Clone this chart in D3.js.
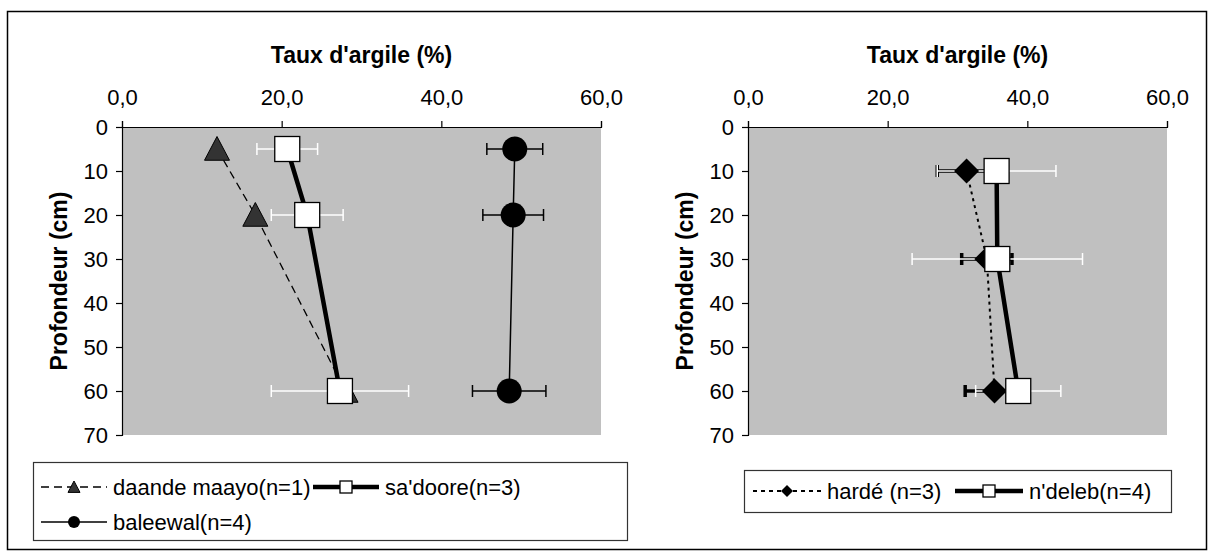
<!DOCTYPE html>
<html>
<head>
<meta charset="utf-8">
<script src="https://cdn.jsdelivr.net/npm/d3@7"></script>
<style>
  body { margin: 0; background: #fff; }
  svg text { font-family: "Liberation Sans", Arial, sans-serif; fill: #000; }
</style>
</head>
<body>
<svg width="1210" height="553"></svg>
<script>
// left chart : depth (cm) and clay rate (%)
const depthLeft = [5, 20, 60]
const daandeMaayo = [11.9, 16.7, 28.0]
const sadoore = [20.7, 23.2, 27.3]
const sadooreErr = [3.8, 4.5, 8.6]
const baleewal = [49.2, 49.0, 48.5]
const baleewalErr = [3.5, 3.8, 4.6]

// right chart
const depthRight = [10, 30, 60]
const harde = [31.3, 34.2, 35.3]
const hardeErr = [4.2, 3.6, 4.2]
const ndeleb = [35.6, 35.7, 38.7]
const ndelebErr = [8.5, 12.2, 6.1]

const xTicks = [0, 20, 40, 60]
const yTicks = [0, 10, 20, 30, 40, 50, 60, 70]
const xTitle = "Taux d'argile (%)"
const yTitle = "Profondeur (cm)"

const svg = d3.select('svg')

// outer frame
svg.append('rect')
  .attr('x', 7.5).attr('y', 11.5)
  .attr('width', 1199).attr('height', 538)
  .attr('fill', 'none').attr('stroke', '#000').attr('stroke-width', 1.5)

var fmt = function(d) { return d.toFixed(1).replace('.', ',') }

var draw_chart = function(box, series, legend) {
  const x = d3.scaleLinear().domain([0, 60]).range([box.left, box.right])
  const y = d3.scaleLinear().domain([0, 70]).range([box.top, box.bottom])

  svg.append('rect')
    .attr('x', box.left).attr('y', box.top)
    .attr('width', box.right - box.left).attr('height', box.bottom - box.top)
    .attr('fill', '#c0c0c0')

  svg.append('g')
    .attr('class', 'axis')
    .attr('transform', `translate(0, ${box.top})`)
    .call(d3.axisTop(x).tickValues(xTicks).tickFormat(fmt).tickSizeOuter(0).tickSize(6).tickPadding(16))
  svg.append('g')
    .attr('class', 'axis')
    .attr('transform', `translate(${box.left}, 0)`)
    .call(d3.axisLeft(y).tickValues(yTicks).tickSizeOuter(0).tickSize(6).tickPadding(8))
  svg.selectAll('.axis .domain').attr('stroke', '#000').attr('stroke-width', 1.2)
  svg.selectAll('.axis .tick line').attr('stroke', '#000').attr('stroke-width', 1.2)
  svg.selectAll('.axis .tick text').style('font-size', '22px')

  svg.append('text')
    .attr('x', (box.left + box.right) / 2)
    .attr('y', 63)
    .attr('text-anchor', 'middle')
    .style('font-size', '23px').style('font-weight', 'bold')
    .text(xTitle)

  svg.append('text')
    .attr('transform', `translate(${box.left - 55}, ${(box.top + box.bottom) / 2}) rotate(-90)`)
    .attr('text-anchor', 'middle')
    .style('font-size', '23px').style('font-weight', 'bold')
    .text(yTitle)

  // lines
  series.forEach(function(s) {
    const line = d3.line().x((d, i) => x(d)).y((d, i) => y(s.depth[i]))
    svg.append('path')
      .datum(s.values)
      .attr('d', line)
      .attr('fill', 'none')
      .attr('stroke', '#000')
      .attr('stroke-width', s.width)
      .attr('stroke-dasharray', s.dash)
  })

  // error bars (drawn before every marker)
  series.forEach(function(s) {
    if (!s.err) return
    s.values.forEach(function(v, i) {
      const g = svg.append('g')
        .attr('stroke', s.errColor)
        .attr('stroke-width', s.errWidth)
      const yy = y(s.depth[i])
      g.append('line').attr('x1', x(v - s.err[i])).attr('x2', x(v + s.err[i])).attr('y1', yy).attr('y2', yy)
      g.append('line').attr('x1', x(v - s.err[i])).attr('x2', x(v - s.err[i])).attr('y1', yy - 6).attr('y2', yy + 6)
      g.append('line').attr('x1', x(v + s.err[i])).attr('x2', x(v + s.err[i])).attr('y1', yy - 6).attr('y2', yy + 6)
    })
  })

  // markers
  series.forEach(function(s) {
    s.values.forEach(function(v, i) {
      draw_marker(s.marker, x(v), y(s.depth[i]), 25)
    })
  })

  // legend
  svg.append('rect')
    .attr('x', legend.x + 0.5).attr('y', legend.y + 0.5)
    .attr('width', legend.w).attr('height', legend.h)
    .attr('fill', '#fff').attr('stroke', '#333').attr('stroke-width', 1.2)

  series.forEach(function(s, i) {
    const pos = legend.items[i]
    svg.append('line')
      .attr('x1', pos[0]).attr('x2', pos[0] + legend.lineLen)
      .attr('y1', pos[1]).attr('y2', pos[1])
      .attr('stroke', '#000')
      .attr('stroke-width', s.width)
      .attr('stroke-dasharray', s.legendDash || s.dash)
    draw_marker(s.marker, pos[0] + legend.lineLen / 2, pos[1], 12)
    svg.append('text')
      .attr('x', pos[0] + legend.lineLen + 6)
      .attr('y', pos[1] + 8)
      .style('font-size', '22px')
      .text(s.name)
  })
}

var draw_marker = function(type, cx, cy, size) {
  const h = size / 2
  if (type == 'square') {
    svg.append('rect')
      .attr('x', cx - h).attr('y', cy - h)
      .attr('width', size).attr('height', size)
      .attr('fill', '#fff').attr('stroke', '#000').attr('stroke-width', 1.3)
  } else if (type == 'circle') {
    svg.append('circle')
      .attr('cx', cx).attr('cy', cy).attr('r', h)
      .attr('fill', '#000')
  } else if (type == 'triangle') {
    svg.append('path')
      .attr('d', `M${cx},${cy - h}L${cx + h},${cy + h * 0.9}L${cx - h},${cy + h * 0.9}Z`)
      .attr('fill', '#333').attr('stroke', '#000').attr('stroke-width', 1)
  } else if (type == 'diamond') {
    svg.append('path')
      .attr('d', `M${cx},${cy - h}L${cx + h},${cy}L${cx},${cy + h}L${cx - h},${cy}Z`)
      .attr('fill', '#000')
  }
}

draw_chart(
  { left: 122, right: 601, top: 127, bottom: 435 },
  [
    { name: 'daande maayo(n=1)', depth: depthLeft, values: daandeMaayo, marker: 'triangle', width: 1.3, dash: '8,5' },
    { name: "sa'doore(n=3)", depth: depthLeft, values: sadoore, err: sadooreErr, errColor: '#fff', errWidth: 1.5, marker: 'square', width: 4.5, dash: null },
    { name: 'baleewal(n=4)', depth: depthLeft, values: baleewal, err: baleewalErr, errColor: '#000', errWidth: 1.5, marker: 'circle', width: 1.5, dash: null }
  ],
  { x: 33, y: 462, w: 594, h: 78, lineLen: 66, items: [[41, 487], [313, 487], [41, 522]] }
)

draw_chart(
  { left: 748, right: 1167, top: 127, bottom: 435 },
  [
    { name: 'hardé (n=3)', depth: depthRight, values: harde, err: hardeErr, errColor: '#000', errWidth: 3.5, marker: 'diamond', width: 2, dash: '3,4', legendDash: '4,4' },
    { name: "n'deleb(n=4)", depth: depthRight, values: ndeleb, err: ndelebErr, errColor: '#fff', errWidth: 1.5, marker: 'square', width: 4.5, dash: null }
  ],
  { x: 744, y: 470, w: 427, h: 42, lineLen: 68, items: [[753, 491], [955, 491]] }
)
</script>
</body>
</html>
